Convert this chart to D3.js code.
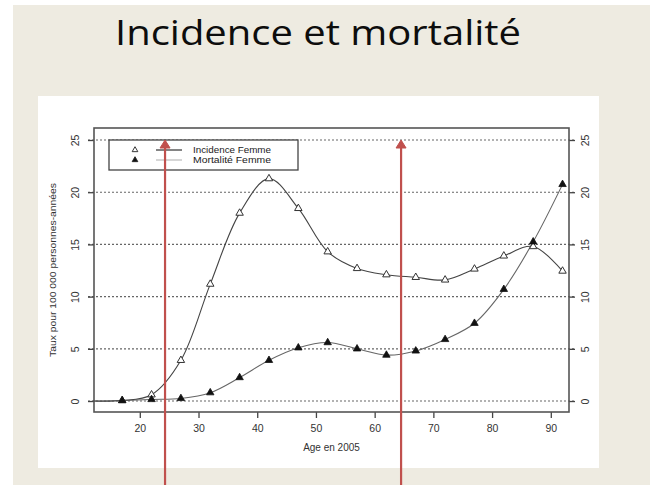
<!DOCTYPE html>
<html>
<head>
<meta charset="utf-8">
<script src="https://cdn.jsdelivr.net/npm/d3@7"></script>
<style>
  body { margin: 0; background: #fff; }
  svg { display: block; }
</style>
</head>
<body>
<div id="chart"></div>
<script>
// ages (12 = start of the curve, no marker there)
const ages       = [12, 17, 22, 27, 32, 37, 42, 47, 52, 57, 62, 67, 72, 77, 82, 87, 92];
const incidence  = [0, 0.05, 0.6, 3.9, 11.2, 18.0, 21.3, 18.45, 14.3, 12.7, 12.1, 11.85, 11.6, 12.65, 13.9, 14.8, 12.45];
const mortalite  = [0, 0.05, 0.15, 0.25, 0.8, 2.25, 3.9, 5.1, 5.6, 5.0, 4.4, 4.8, 5.9, 7.45, 10.7, 15.25, 20.75];
const xTicks     = [20, 30, 40, 50, 60, 70, 80, 90];
const yTicks     = [0, 5, 10, 15, 20, 25];
const arrowAges  = [24.3, 64.5];
const legendLabels = ['Incidence Femme', 'Mortalité Femme'];

const W = 650, H = 485;
const box = { left: 94, right: 569, top: 128, bottom: 412 };

const svg = d3.select('#chart').append('svg')
  .attr('width', W).attr('height', H);

// slide background
svg.append('rect').attr('x', 13).attr('y', 5).attr('width', W - 13).attr('height', H - 5)
  .attr('fill', '#eeebe1');
svg.append('text')
  .attr('x', 318).attr('y', 45)
  .attr('text-anchor', 'middle')
  .attr('font-family', 'Open Sans, Lato, sans-serif')
  .attr('font-size', 34)
  .attr('textLength', 406).attr('lengthAdjust', 'spacingAndGlyphs')
  .attr('fill', '#0d0d0d')
  .text('Incidence et mortalité');

// white picture of the plot
svg.append('rect').attr('x', 38).attr('y', 96).attr('width', 561).attr('height', 372)
  .attr('fill', '#fff');

const x = d3.scaleLinear().domain([12.2, 93.1]).range([box.left, box.right]);
const y = d3.scaleLinear().domain([-1.05, 26.15]).range([box.bottom, box.top]);

const font = 'Liberation Sans, Arial, sans-serif';
const axisCol = '#444';

// dotted grid
svg.append('g').selectAll('line').data(yTicks).join('line')
  .attr('x1', box.left - 6).attr('x2', box.right + 6)
  .attr('y1', d => y(d)).attr('y2', d => y(d))
  .attr('stroke', '#666').attr('stroke-width', 1.1)
  .attr('stroke-dasharray', '2,2');

// axes
const gl = svg.append('g').attr('transform', `translate(${box.left},0)`)
  .call(d3.axisLeft(y).tickValues(yTicks).tickSize(6).tickSizeOuter(0).tickPadding(9));
const gr = svg.append('g').attr('transform', `translate(${box.right},0)`)
  .call(d3.axisRight(y).tickValues(yTicks).tickSize(6).tickSizeOuter(0).tickPadding(9));
const gb = svg.append('g').attr('transform', `translate(0,${box.bottom})`)
  .call(d3.axisBottom(x).tickValues(xTicks).tickSize(6).tickSizeOuter(0).tickPadding(7));

[gl, gr, gb].forEach(g => {
  g.select('.domain').remove();
  g.selectAll('line').attr('stroke', axisCol).attr('stroke-width', 1.3);
  g.selectAll('text').attr('font-family', font).attr('font-size', 10.5).attr('fill', '#333');
});
gl.selectAll('.tick text')
  .attr('text-anchor', 'middle').attr('x', 0).attr('dy', 0)
  .attr('transform', 'translate(-19,0) rotate(-90)')
  .attr('dominant-baseline', 'central');
gr.selectAll('.tick text')
  .attr('text-anchor', 'middle').attr('x', 0).attr('dy', 0)
  .attr('transform', 'translate(16,0) rotate(-90)')
  .attr('dominant-baseline', 'central');

// plot box
svg.append('rect')
  .attr('x', box.left).attr('y', box.top)
  .attr('width', box.right - box.left).attr('height', box.bottom - box.top)
  .attr('fill', 'none').attr('stroke', '#555').attr('stroke-width', 1.6);

// axis titles
svg.append('text')
  .attr('x', (box.left + box.right) / 2).attr('y', 451)
  .attr('text-anchor', 'middle')
  .attr('font-family', font).attr('font-size', 10).attr('fill', '#333')
  .text('Age en 2005');
svg.append('text')
  .attr('transform', `translate(56,${(box.top + box.bottom) / 2}) rotate(-90)`)
  .attr('text-anchor', 'middle')
  .attr('font-family', font).attr('font-size', 9.5).attr('fill', '#333')
  .attr('textLength', 174).attr('lengthAdjust', 'spacingAndGlyphs')
  .text('Taux pour 100 000 personnes-années');

// curves
const line = d3.line().curve(d3.curveCatmullRom.alpha(0.5))
  .x(d => x(d[0])).y(d => y(d[1]));
const incPts = ages.map((a, i) => [a, incidence[i]]);
const morPts = ages.map((a, i) => [a, mortalite[i]]);

svg.append('path').attr('d', line(morPts))
  .attr('fill', 'none').attr('stroke', '#666').attr('stroke-width', 1.1);
svg.append('path').attr('d', line(incPts))
  .attr('fill', 'none').attr('stroke', '#444').attr('stroke-width', 1.1);

const tri = d3.symbol().type(d3.symbolTriangle).size(24);
svg.append('g').selectAll('path').data(incPts.filter(d => d[0] >= 17)).join('path')
  .attr('d', tri).attr('transform', d => `translate(${x(d[0])},${y(d[1])})`)
  .attr('fill', '#fff').attr('stroke', '#333').attr('stroke-width', 1);
svg.append('g').selectAll('path').data(morPts.filter(d => d[0] >= 17)).join('path')
  .attr('d', tri).attr('transform', d => `translate(${x(d[0])},${y(d[1])})`)
  .attr('fill', '#111').attr('stroke', '#111').attr('stroke-width', 0.8);

// legend
const lg = svg.append('g');
lg.append('rect').attr('x', 109).attr('y', 140).attr('width', 189).attr('height', 30)
  .attr('fill', '#fff').attr('stroke', '#444').attr('stroke-width', 1.3);
legendLabels.forEach((lab, i) => {
  const ly = 150 + i * 10;
  lg.append('path').attr('d', tri.size(14))
    .attr('transform', `translate(135,${ly})`)
    .attr('fill', i === 0 ? '#fff' : '#111').attr('stroke', '#222').attr('stroke-width', 0.9);
  lg.append('line').attr('x1', 156).attr('x2', 182).attr('y1', ly).attr('y2', ly)
    .attr('stroke', i === 0 ? '#333' : '#bbb').attr('stroke-width', 1.2);
  lg.append('text').attr('x', 193).attr('y', ly + 3.3)
    .attr('font-family', font).attr('font-size', 9).attr('fill', '#222')
    .attr('textLength', 78).attr('lengthAdjust', 'spacingAndGlyphs')
    .text(lab);
});

// red arrows
const red = '#c0504d';
arrowAges.forEach(a => {
  const ax = x(a), top = y(25);
  svg.append('line').attr('x1', ax).attr('x2', ax).attr('y1', top + 3).attr('y2', H)
    .attr('stroke', red).attr('stroke-width', 2.2);
  svg.append('path')
    .attr('d', `M${ax - 5},${top + 8} L${ax},${top} L${ax + 5},${top + 8} Z`)
    .attr('fill', red).attr('stroke', red).attr('stroke-width', 1)
    .attr('stroke-linejoin', 'round');
});
</script>
</body>
</html>
